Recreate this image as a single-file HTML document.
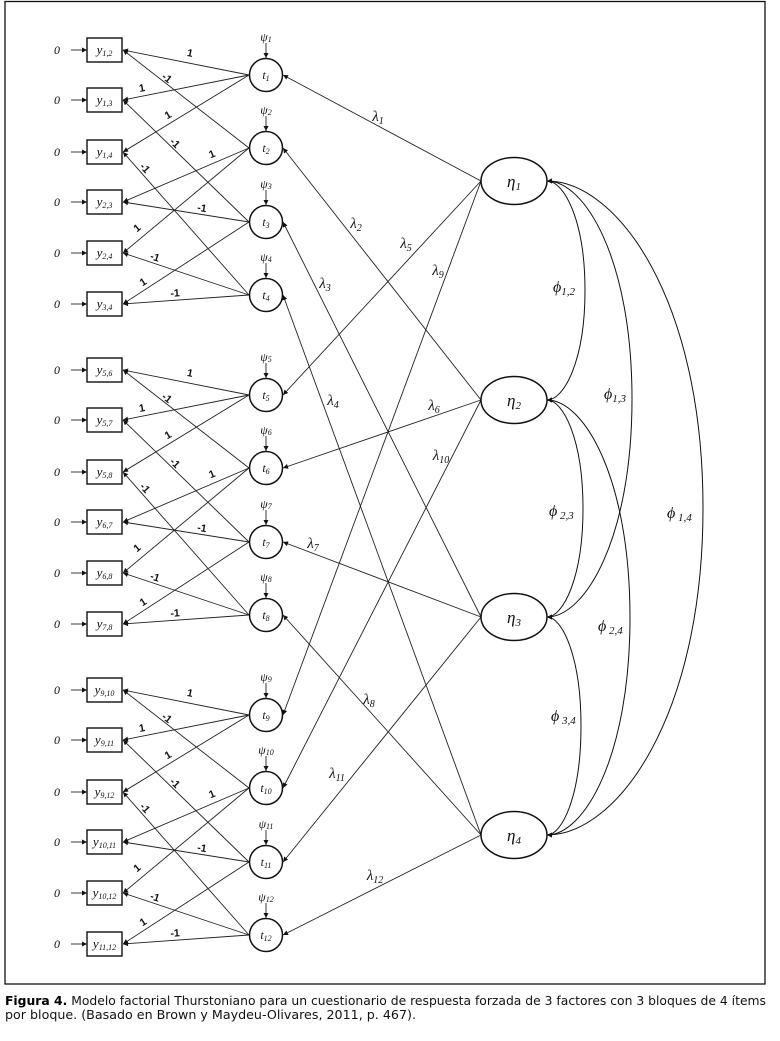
<!DOCTYPE html>
<html><head><meta charset="utf-8">
<style>
html,body{margin:0;padding:0;background:#fff;}
svg{display:block;}
.ln line{stroke:#222;stroke-width:.9;marker-end:url(#a);}
.num{font-family:"Liberation Sans",sans-serif;font-size:10.5px;font-weight:bold;fill:#111;text-anchor:middle;}
.it{font-family:"Liberation Serif","DejaVu Serif",serif;font-style:italic;fill:#111;text-anchor:middle;}
.box{fill:#fff;stroke:#111;stroke-width:1.4;}
.cir{fill:#fff;stroke:#111;stroke-width:1.5;}
</style></head>
<body>
<svg width="780" height="1041" viewBox="0 0 780 1041" xmlns="http://www.w3.org/2000/svg">
<defs>
<marker id="a" viewBox="0 0 10 10" refX="10" refY="5" markerWidth="6" markerHeight="5" markerUnits="userSpaceOnUse" orient="auto-start-reverse"><path d="M0,0 L10,5 L0,10 z" fill="#111"/></marker>
</defs>
<rect x="5" y="1.5" width="760" height="982.5" fill="none" stroke="#111" stroke-width="1.3"/>

<!-- lambda lines -->
<g class="ln">
<line x1="481" y1="181" x2="283" y2="75"/>
<line x1="481" y1="181" x2="283" y2="395"/>
<line x1="481" y1="181" x2="283" y2="715"/>
<line x1="481" y1="400" x2="283" y2="148"/>
<line x1="481" y1="400" x2="283" y2="468"/>
<line x1="481" y1="400" x2="283" y2="788"/>
<line x1="481" y1="617" x2="283" y2="222"/>
<line x1="481" y1="617" x2="283" y2="542"/>
<line x1="481" y1="617" x2="283" y2="862"/>
<line x1="481" y1="835" x2="283" y2="295"/>
<line x1="481" y1="835" x2="283" y2="615"/>
<line x1="481" y1="835" x2="283" y2="935"/>
</g>

<!-- phi curves -->
<g fill="none" stroke="#111" stroke-width="1" marker-start="url(#a)" marker-end="url(#a)">
<path d="M547,181 C564,181 585,220 585,290.5 C585,361 564,400 547,400"/>
<path d="M547,181 C585,181 632,259.5 632,399 C632,538.5 585,617 547,617"/>
<path d="M547,181 C617,181 703,299 703,508 C703,717 617,835 547,835"/>
<path d="M547,400 C563,400 583,439 583,508.5 C583,578 563,617 547,617"/>
<path d="M547,400 C584,400 630,478 630,617.5 C630,757 584,835 547,835"/>
<path d="M547,617 C562,617 581,656 581,726 C581,796 562,835 547,835"/>
</g>

<!-- eta ellipses -->
<g class="cir">
<ellipse cx="514" cy="181" rx="33" ry="23.5"/>
<ellipse cx="514" cy="400" rx="33" ry="23.5"/>
<ellipse cx="514" cy="617" rx="33" ry="23.5"/>
<ellipse cx="514" cy="835" rx="33" ry="23.5"/>
</g>
<text class="it" x="514" y="187"><tspan font-size="17">η</tspan><tspan font-size="11" dy="3">1</tspan></text>
<text class="it" x="514" y="406"><tspan font-size="17">η</tspan><tspan font-size="11" dy="3">2</tspan></text>
<text class="it" x="514" y="623"><tspan font-size="17">η</tspan><tspan font-size="11" dy="3">3</tspan></text>
<text class="it" x="514" y="841"><tspan font-size="17">η</tspan><tspan font-size="11" dy="3">4</tspan></text>

<!-- lambda labels -->
<g class="it">
<text x="378" y="121"><tspan font-size="15">λ</tspan><tspan font-size="10" dy="3">1</tspan></text>
<text x="356" y="228"><tspan font-size="15">λ</tspan><tspan font-size="10" dy="3">2</tspan></text>
<text x="325" y="288"><tspan font-size="15">λ</tspan><tspan font-size="10" dy="3">3</tspan></text>
<text x="333" y="405"><tspan font-size="15">λ</tspan><tspan font-size="10" dy="3">4</tspan></text>
<text x="406" y="248"><tspan font-size="15">λ</tspan><tspan font-size="10" dy="3">5</tspan></text>
<text x="434" y="410"><tspan font-size="15">λ</tspan><tspan font-size="10" dy="3">6</tspan></text>
<text x="313" y="548"><tspan font-size="15">λ</tspan><tspan font-size="10" dy="3">7</tspan></text>
<text x="369" y="704"><tspan font-size="15">λ</tspan><tspan font-size="10" dy="3">8</tspan></text>
<text x="438" y="275"><tspan font-size="15">λ</tspan><tspan font-size="10" dy="3">9</tspan></text>
<text x="441" y="460"><tspan font-size="15">λ</tspan><tspan font-size="10" dy="3">10</tspan></text>
<text x="337" y="778"><tspan font-size="15">λ</tspan><tspan font-size="10" dy="3">11</tspan></text>
<text x="375" y="880"><tspan font-size="15">λ</tspan><tspan font-size="10" dy="3">12</tspan></text>
</g>

<!-- phi labels -->
<g class="it" style="text-anchor:start">
<text x="553" y="292"><tspan font-size="16">ϕ</tspan><tspan font-size="11" dy="3">1,2</tspan></text>
<text x="604" y="399"><tspan font-size="16">ϕ</tspan><tspan font-size="11" dy="3">1,3</tspan></text>
<text x="549" y="516"><tspan font-size="16">ϕ</tspan><tspan font-size="11" dy="3"> 2,3</tspan></text>
<text x="667" y="518"><tspan font-size="16">ϕ</tspan><tspan font-size="11" dy="3"> 1,4</tspan></text>
<text x="598" y="631"><tspan font-size="16">ϕ</tspan><tspan font-size="11" dy="3"> 2,4</tspan></text>
<text x="551" y="721"><tspan font-size="16">ϕ</tspan><tspan font-size="11" dy="3"> 3,4</tspan></text>
</g>

<!-- BLOCK 1 -->
<g>
<g class="ln">
<line x1="249" y1="75" x2="123" y2="50"/>
<line x1="249" y1="148" x2="123" y2="50"/>
<line x1="249" y1="75" x2="123" y2="100"/>
<line x1="249" y1="75" x2="123" y2="152"/>
<line x1="249" y1="222" x2="123" y2="100"/>
<line x1="249" y1="148" x2="123" y2="202"/>
<line x1="249" y1="295" x2="123" y2="152"/>
<line x1="249" y1="222" x2="123" y2="202"/>
<line x1="249" y1="148" x2="123" y2="253"/>
<line x1="249" y1="295" x2="123" y2="253"/>
<line x1="249" y1="222" x2="123" y2="304"/>
<line x1="249" y1="295" x2="123" y2="304"/>
<line x1="71" y1="50" x2="87" y2="50"/>
<line x1="71" y1="100" x2="87" y2="100"/>
<line x1="71" y1="152" x2="87" y2="152"/>
<line x1="71" y1="202" x2="87" y2="202"/>
<line x1="71" y1="253" x2="87" y2="253"/>
<line x1="71" y1="304" x2="87" y2="304"/>
<line x1="266" y1="43" x2="266" y2="58"/>
<line x1="266" y1="116" x2="266" y2="131"/>
<line x1="266" y1="190" x2="266" y2="205"/>
<line x1="266" y1="263" x2="266" y2="278"/>
</g>
<text class="num" x="190" y="56.5" transform="rotate(11 190 53)">1</text>
<text class="num" x="167" y="81.5" transform="rotate(38 167 78)">-1</text>
<text class="num" x="142" y="91.5" transform="rotate(-11 142 88)">1</text>
<text class="num" x="168" y="118.5" transform="rotate(-31 168 115)">1</text>
<text class="num" x="175" y="146.5" transform="rotate(44 175 143)">-1</text>
<text class="num" x="212" y="157.5" transform="rotate(-23 212 154)">1</text>
<text class="num" x="145" y="171.5" transform="rotate(48 145 168)">-1</text>
<text class="num" x="202" y="211.5" transform="rotate(9 202 208)">-1</text>
<text class="num" x="137" y="231.5" transform="rotate(-40 137 228)">1</text>
<text class="num" x="155" y="260.5" transform="rotate(18 155 257)">-1</text>
<text class="num" x="143" y="285.5" transform="rotate(-33 143 282)">1</text>
<text class="num" x="175" y="296.5" transform="rotate(-4 175 293)">-1</text>
<g class="box">
<rect x="87" y="38" width="35" height="24"/><rect x="87" y="88" width="35" height="24"/><rect x="87" y="140" width="35" height="24"/>
<rect x="87" y="190" width="35" height="24"/><rect x="87" y="241" width="35" height="24"/><rect x="87" y="292" width="35" height="24"/>
</g>
<g class="cir">
<circle cx="266" cy="75" r="16.5"/><circle cx="266" cy="148" r="16.5"/><circle cx="266" cy="222" r="16.5"/><circle cx="266" cy="295" r="16.5"/>
</g>
<g class="it">
<text x="57" y="54" font-size="12">0</text><text x="57" y="104" font-size="12">0</text><text x="57" y="156" font-size="12">0</text>
<text x="57" y="206" font-size="12">0</text><text x="57" y="257" font-size="12">0</text><text x="57" y="308" font-size="12">0</text>
<text x="104.5" y="54"><tspan font-size="13">y</tspan><tspan font-size="8" dy="2">1,2</tspan></text>
<text x="104.5" y="104"><tspan font-size="13">y</tspan><tspan font-size="8" dy="2">1,3</tspan></text>
<text x="104.5" y="156"><tspan font-size="13">y</tspan><tspan font-size="8" dy="2">1,4</tspan></text>
<text x="104.5" y="206"><tspan font-size="13">y</tspan><tspan font-size="8" dy="2">2,3</tspan></text>
<text x="104.5" y="257"><tspan font-size="13">y</tspan><tspan font-size="8" dy="2">2,4</tspan></text>
<text x="104.5" y="308"><tspan font-size="13">y</tspan><tspan font-size="8" dy="2">3,4</tspan></text>
<text x="266" y="79"><tspan font-size="12">t</tspan><tspan font-size="8" dy="2">1</tspan></text>
<text x="266" y="152"><tspan font-size="12">t</tspan><tspan font-size="8" dy="2">2</tspan></text>
<text x="266" y="226"><tspan font-size="12">t</tspan><tspan font-size="8" dy="2">3</tspan></text>
<text x="266" y="299"><tspan font-size="12">t</tspan><tspan font-size="8" dy="2">4</tspan></text>
<text x="266" y="41"><tspan font-size="12">ψ</tspan><tspan font-size="8" dy="1">1</tspan></text>
<text x="266" y="114"><tspan font-size="12">ψ</tspan><tspan font-size="8" dy="1">2</tspan></text>
<text x="266" y="188"><tspan font-size="12">ψ</tspan><tspan font-size="8" dy="1">3</tspan></text>
<text x="266" y="261"><tspan font-size="12">ψ</tspan><tspan font-size="8" dy="1">4</tspan></text>
</g>
</g>

<!-- BLOCK 2 -->
<g transform="translate(0,320)">
<g class="ln">
<line x1="249" y1="75" x2="123" y2="50"/>
<line x1="249" y1="148" x2="123" y2="50"/>
<line x1="249" y1="75" x2="123" y2="100"/>
<line x1="249" y1="75" x2="123" y2="152"/>
<line x1="249" y1="222" x2="123" y2="100"/>
<line x1="249" y1="148" x2="123" y2="202"/>
<line x1="249" y1="295" x2="123" y2="152"/>
<line x1="249" y1="222" x2="123" y2="202"/>
<line x1="249" y1="148" x2="123" y2="253"/>
<line x1="249" y1="295" x2="123" y2="253"/>
<line x1="249" y1="222" x2="123" y2="304"/>
<line x1="249" y1="295" x2="123" y2="304"/>
<line x1="71" y1="50" x2="87" y2="50"/>
<line x1="71" y1="100" x2="87" y2="100"/>
<line x1="71" y1="152" x2="87" y2="152"/>
<line x1="71" y1="202" x2="87" y2="202"/>
<line x1="71" y1="253" x2="87" y2="253"/>
<line x1="71" y1="304" x2="87" y2="304"/>
<line x1="266" y1="43" x2="266" y2="58"/>
<line x1="266" y1="116" x2="266" y2="131"/>
<line x1="266" y1="190" x2="266" y2="205"/>
<line x1="266" y1="263" x2="266" y2="278"/>
</g>
<text class="num" x="190" y="56.5" transform="rotate(11 190 53)">1</text>
<text class="num" x="167" y="81.5" transform="rotate(38 167 78)">-1</text>
<text class="num" x="142" y="91.5" transform="rotate(-11 142 88)">1</text>
<text class="num" x="168" y="118.5" transform="rotate(-31 168 115)">1</text>
<text class="num" x="175" y="146.5" transform="rotate(44 175 143)">-1</text>
<text class="num" x="212" y="157.5" transform="rotate(-23 212 154)">1</text>
<text class="num" x="145" y="171.5" transform="rotate(48 145 168)">-1</text>
<text class="num" x="202" y="211.5" transform="rotate(9 202 208)">-1</text>
<text class="num" x="137" y="231.5" transform="rotate(-40 137 228)">1</text>
<text class="num" x="155" y="260.5" transform="rotate(18 155 257)">-1</text>
<text class="num" x="143" y="285.5" transform="rotate(-33 143 282)">1</text>
<text class="num" x="175" y="296.5" transform="rotate(-4 175 293)">-1</text>
<g class="box">
<rect x="87" y="38" width="35" height="24"/><rect x="87" y="88" width="35" height="24"/><rect x="87" y="140" width="35" height="24"/>
<rect x="87" y="190" width="35" height="24"/><rect x="87" y="241" width="35" height="24"/><rect x="87" y="292" width="35" height="24"/>
</g>
<g class="cir">
<circle cx="266" cy="75" r="16.5"/><circle cx="266" cy="148" r="16.5"/><circle cx="266" cy="222" r="16.5"/><circle cx="266" cy="295" r="16.5"/>
</g>
<g class="it">
<text x="57" y="54" font-size="12">0</text><text x="57" y="104" font-size="12">0</text><text x="57" y="156" font-size="12">0</text>
<text x="57" y="206" font-size="12">0</text><text x="57" y="257" font-size="12">0</text><text x="57" y="308" font-size="12">0</text>
<text x="104.5" y="54"><tspan font-size="13">y</tspan><tspan font-size="8" dy="2">5,6</tspan></text>
<text x="104.5" y="104"><tspan font-size="13">y</tspan><tspan font-size="8" dy="2">5,7</tspan></text>
<text x="104.5" y="156"><tspan font-size="13">y</tspan><tspan font-size="8" dy="2">5,8</tspan></text>
<text x="104.5" y="206"><tspan font-size="13">y</tspan><tspan font-size="8" dy="2">6,7</tspan></text>
<text x="104.5" y="257"><tspan font-size="13">y</tspan><tspan font-size="8" dy="2">6,8</tspan></text>
<text x="104.5" y="308"><tspan font-size="13">y</tspan><tspan font-size="8" dy="2">7,8</tspan></text>
<text x="266" y="79"><tspan font-size="12">t</tspan><tspan font-size="8" dy="2">5</tspan></text>
<text x="266" y="152"><tspan font-size="12">t</tspan><tspan font-size="8" dy="2">6</tspan></text>
<text x="266" y="226"><tspan font-size="12">t</tspan><tspan font-size="8" dy="2">7</tspan></text>
<text x="266" y="299"><tspan font-size="12">t</tspan><tspan font-size="8" dy="2">8</tspan></text>
<text x="266" y="41"><tspan font-size="12">ψ</tspan><tspan font-size="8" dy="1">5</tspan></text>
<text x="266" y="114"><tspan font-size="12">ψ</tspan><tspan font-size="8" dy="1">6</tspan></text>
<text x="266" y="188"><tspan font-size="12">ψ</tspan><tspan font-size="8" dy="1">7</tspan></text>
<text x="266" y="261"><tspan font-size="12">ψ</tspan><tspan font-size="8" dy="1">8</tspan></text>
</g>
</g>

<!-- BLOCK 3 -->
<g transform="translate(0,640)">
<g class="ln">
<line x1="249" y1="75" x2="123" y2="50"/>
<line x1="249" y1="148" x2="123" y2="50"/>
<line x1="249" y1="75" x2="123" y2="100"/>
<line x1="249" y1="75" x2="123" y2="152"/>
<line x1="249" y1="222" x2="123" y2="100"/>
<line x1="249" y1="148" x2="123" y2="202"/>
<line x1="249" y1="295" x2="123" y2="152"/>
<line x1="249" y1="222" x2="123" y2="202"/>
<line x1="249" y1="148" x2="123" y2="253"/>
<line x1="249" y1="295" x2="123" y2="253"/>
<line x1="249" y1="222" x2="123" y2="304"/>
<line x1="249" y1="295" x2="123" y2="304"/>
<line x1="71" y1="50" x2="87" y2="50"/>
<line x1="71" y1="100" x2="87" y2="100"/>
<line x1="71" y1="152" x2="87" y2="152"/>
<line x1="71" y1="202" x2="87" y2="202"/>
<line x1="71" y1="253" x2="87" y2="253"/>
<line x1="71" y1="304" x2="87" y2="304"/>
<line x1="266" y1="43" x2="266" y2="58"/>
<line x1="266" y1="116" x2="266" y2="131"/>
<line x1="266" y1="190" x2="266" y2="205"/>
<line x1="266" y1="263" x2="266" y2="278"/>
</g>
<text class="num" x="190" y="56.5" transform="rotate(11 190 53)">1</text>
<text class="num" x="167" y="81.5" transform="rotate(38 167 78)">-1</text>
<text class="num" x="142" y="91.5" transform="rotate(-11 142 88)">1</text>
<text class="num" x="168" y="118.5" transform="rotate(-31 168 115)">1</text>
<text class="num" x="175" y="146.5" transform="rotate(44 175 143)">-1</text>
<text class="num" x="212" y="157.5" transform="rotate(-23 212 154)">1</text>
<text class="num" x="145" y="171.5" transform="rotate(48 145 168)">-1</text>
<text class="num" x="202" y="211.5" transform="rotate(9 202 208)">-1</text>
<text class="num" x="137" y="231.5" transform="rotate(-40 137 228)">1</text>
<text class="num" x="155" y="260.5" transform="rotate(18 155 257)">-1</text>
<text class="num" x="143" y="285.5" transform="rotate(-33 143 282)">1</text>
<text class="num" x="175" y="296.5" transform="rotate(-4 175 293)">-1</text>
<g class="box">
<rect x="87" y="38" width="35" height="24"/><rect x="87" y="88" width="35" height="24"/><rect x="87" y="140" width="35" height="24"/>
<rect x="87" y="190" width="35" height="24"/><rect x="87" y="241" width="35" height="24"/><rect x="87" y="292" width="35" height="24"/>
</g>
<g class="cir">
<circle cx="266" cy="75" r="16.5"/><circle cx="266" cy="148" r="16.5"/><circle cx="266" cy="222" r="16.5"/><circle cx="266" cy="295" r="16.5"/>
</g>
<g class="it">
<text x="57" y="54" font-size="12">0</text><text x="57" y="104" font-size="12">0</text><text x="57" y="156" font-size="12">0</text>
<text x="57" y="206" font-size="12">0</text><text x="57" y="257" font-size="12">0</text><text x="57" y="308" font-size="12">0</text>
<text x="104.5" y="54"><tspan font-size="13">y</tspan><tspan font-size="8" dy="2">9,10</tspan></text>
<text x="104.5" y="104"><tspan font-size="13">y</tspan><tspan font-size="8" dy="2">9,11</tspan></text>
<text x="104.5" y="156"><tspan font-size="13">y</tspan><tspan font-size="8" dy="2">9,12</tspan></text>
<text x="104.5" y="206"><tspan font-size="13">y</tspan><tspan font-size="8" dy="2">10,11</tspan></text>
<text x="104.5" y="257"><tspan font-size="13">y</tspan><tspan font-size="8" dy="2">10,12</tspan></text>
<text x="104.5" y="308"><tspan font-size="13">y</tspan><tspan font-size="8" dy="2">11,12</tspan></text>
<text x="266" y="79"><tspan font-size="12">t</tspan><tspan font-size="8" dy="2">9</tspan></text>
<text x="266" y="152"><tspan font-size="12">t</tspan><tspan font-size="8" dy="2">10</tspan></text>
<text x="266" y="226"><tspan font-size="12">t</tspan><tspan font-size="8" dy="2">11</tspan></text>
<text x="266" y="299"><tspan font-size="12">t</tspan><tspan font-size="8" dy="2">12</tspan></text>
<text x="266" y="41"><tspan font-size="12">ψ</tspan><tspan font-size="8" dy="1">9</tspan></text>
<text x="266" y="114"><tspan font-size="12">ψ</tspan><tspan font-size="8" dy="1">10</tspan></text>
<text x="266" y="188"><tspan font-size="12">ψ</tspan><tspan font-size="8" dy="1">11</tspan></text>
<text x="266" y="261"><tspan font-size="12">ψ</tspan><tspan font-size="8" dy="1">12</tspan></text>
</g>
</g>

<!-- caption -->
<text x="5" y="1005" font-family="DejaVu Sans, Liberation Sans, sans-serif" font-size="12" fill="#111" textLength="761" lengthAdjust="spacingAndGlyphs"><tspan font-weight="bold" fill="#000">Figura 4.</tspan> Modelo factorial Thurstoniano para un cuestionario de respuesta forzada de 3 factores con 3 bloques de 4 ítems</text>
<text x="5" y="1019" font-family="DejaVu Sans, Liberation Sans, sans-serif" font-size="12" fill="#111" textLength="411" lengthAdjust="spacingAndGlyphs">por bloque. (Basado en Brown y Maydeu-Olivares, 2011, p. 467).</text>
</svg>
</body></html>
